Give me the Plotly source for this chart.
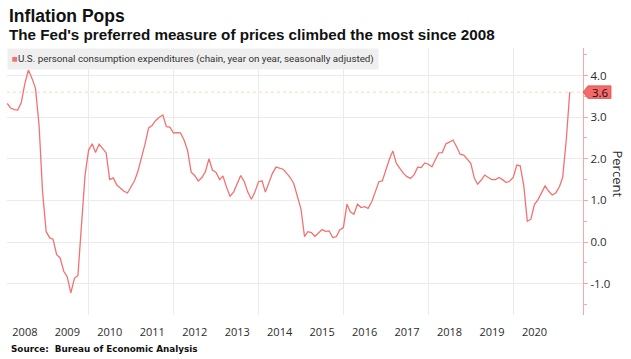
import pandas as pd
import plotly.graph_objects as go

# Monthly PCE price index, % change year on year (Jan 2008 - Apr 2021)
start_month = "2008-01-31"
pce_yoy = [
    # 2008
    3.33, 3.22, 3.18, 3.17, 3.35, 3.80, 4.13, 3.93, 3.69, 2.80, 1.20, 0.25,
    # 2009
    0.10, 0.07, -0.30, -0.38, -0.70, -0.83, -1.22, -0.87, -0.80, 0.40, 1.60, 2.21,
    # 2010
    2.36, 2.15, 2.35, 2.25, 2.14, 1.50, 1.54, 1.37, 1.30, 1.22, 1.18, 1.32,
    # 2011
    1.48, 1.70, 2.00, 2.35, 2.74, 2.80, 2.92, 3.00, 3.05, 2.77, 2.76, 2.62,
    # 2012
    2.63, 2.62, 2.45, 2.20, 1.68, 1.60, 1.47, 1.55, 1.69, 2.00, 1.73, 1.67,
    # 2013
    1.50, 1.59, 1.32, 1.10, 1.20, 1.40, 1.60, 1.45, 1.20, 1.03, 1.20, 1.45,
    # 2014
    1.47, 1.20, 1.45, 1.65, 1.80, 1.78, 1.75, 1.65, 1.55, 1.40, 1.10, 0.80,
    # 2015
    0.13, 0.25, 0.23, 0.14, 0.22, 0.30, 0.26, 0.27, 0.11, 0.13, 0.29, 0.35,
    # 2016
    0.91, 0.73, 0.67, 0.91, 0.83, 0.85, 0.81, 0.97, 1.20, 1.45, 1.47, 1.75,
    # 2017
    2.00, 2.19, 1.89, 1.77, 1.65, 1.57, 1.53, 1.62, 1.80, 1.79, 1.90, 1.87,
    # 2018
    1.81, 1.97, 2.14, 2.15, 2.36, 2.40, 2.45, 2.29, 2.11, 2.09, 1.98, 1.89,
    # 2019
    1.53, 1.39, 1.49, 1.61, 1.55, 1.50, 1.50, 1.55, 1.50, 1.43, 1.46, 1.55,
    # 2020
    1.85, 1.83, 1.35, 0.50, 0.55, 0.90, 1.02, 1.20, 1.35, 1.22, 1.13, 1.18,
    # 2021
    1.33, 1.55, 2.45, 3.60,
]
dates = pd.date_range(start_month, periods=len(pce_yoy), freq="ME")

year_labels = [str(y) for y in range(2008, 2021)]
year_tick_dates = [f"{y}-07-01" for y in range(2008, 2021)]
y_tick_vals = [-1, 0, 1, 2, 3, 4]
y_tick_text = ["-1.0", "0.0", "1.0", "2.0", "3.0", "4.0"]

title_text = "Inflation Pops"
subtitle_text = "The Fed's preferred measure of prices climbed the most since 2008"
series_name = "U.S. personal consumption expenditures (chain, year on year, seasonally adjusted)"
source_text = "Source:  Bureau of Economic Analysis"

LINE = "#f27272"
AXIS = "#f3a9a9"
GRID = "#ebebeb"
TEXT = "#2b2b2b"

fig = go.Figure()
fig.add_trace(go.Scatter(
    x=dates, y=pce_yoy, mode="lines", name=series_name,
    line=dict(color=LINE, width=1.3), showlegend=False,
))

last_val = pce_yoy[-1]
H = 267.0
W = 576.0
yr = 4.66 - (-1.75)
dy = 6.3 * yr / H

# reference line at last value
fig.add_shape(type="line", xref="paper", yref="y", x0=0, x1=1, y0=last_val, y1=last_val,
              line=dict(color="#fbd7bd", width=1, dash="dot"), layer="below")
# value tag
px = lambda p: 1 + p / W
fig.add_shape(
    type="path", xref="paper", yref="y", layer="above",
    path=(f"M {px(0)} {last_val} L {px(5)} {last_val + dy} L {px(28)} {last_val + dy} "
          f"L {px(28)} {last_val - dy} L {px(5)} {last_val - dy} Z"),
    fillcolor="#f36a6a", line=dict(color="#d9534f", width=0.8),
)
fig.add_annotation(
    xref="paper", yref="y", x=px(17), y=last_val, text=f"{last_val:.1f}",
    showarrow=False, font=dict(family="Open Sans", size=11.5, color="#2a0a0a"),
    xanchor="center", yanchor="middle",
)

# legend-like box
fig.add_annotation(
    xref="paper", yref="paper", x=0, y=1.0, xanchor="left", yanchor="top",
    text=f'<span style="color:{LINE}">■</span>{series_name}',
    showarrow=False, align="left",
    font=dict(family="Liberation Sans Narrow, Roboto, sans-serif", size=9.8, color="#333333"),
    bgcolor="#efefef", borderpad=4,
)

# titles
fig.add_annotation(
    xref="paper", yref="paper", x=0, y=1, xanchor="left", yanchor="bottom",
    yshift=20, text=f"<b>{title_text}</b>", showarrow=False,
    font=dict(family="Liberation Sans, Arial, sans-serif", size=17.5, color="#111111"),
)
fig.add_annotation(
    xref="paper", yref="paper", x=0, y=1, xanchor="left", yanchor="bottom",
    yshift=3, text=f"<b>{subtitle_text}</b>", showarrow=False,
    font=dict(family="Liberation Sans, Arial, sans-serif", size=15.2, color="#111111"),
)
fig.add_annotation(
    xref="paper", yref="paper", x=0, y=0, xanchor="left", yanchor="top",
    yshift=-27, xshift=2, text=f"<b>{source_text}</b>", showarrow=False,
    font=dict(family="DejaVu Sans, sans-serif", size=8.8, color="#111111"),
)
# y-axis title reading top to bottom
fig.add_annotation(
    xref="paper", yref="paper", x=1, y=0.5, xanchor="center", yanchor="middle",
    xshift=35, yshift=8, text="Percent", textangle=90, showarrow=False,
    font=dict(family="Open Sans", size=13, color=TEXT),
)

fig.update_layout(
    width=631, height=359,
    margin=dict(l=7, r=48, t=48, b=44),
    paper_bgcolor="white", plot_bgcolor="white",
    showlegend=False,
    xaxis=dict(
        type="date", range=["2008-01-29", "2021-08-22"],
        tickvals=year_tick_dates, ticktext=year_labels,
        showgrid=False, zeroline=False, showline=False, ticks="",
        tickfont=dict(family="Open Sans", size=11, color=TEXT),
        ticklabelstandoff=9,
        minor=dict(tick0="2010-01-01", dtick="M24", showgrid=True,
                   gridcolor=GRID, gridwidth=1, ticks=""),
    ),
    yaxis=dict(
        side="right", range=[-1.75, 4.66],
        tickvals=y_tick_vals, ticktext=y_tick_text,
        showgrid=True, gridcolor=GRID, gridwidth=1, zeroline=False,
        showline=True, linecolor=AXIS, linewidth=1.2,
        ticks="outside", ticklen=4, tickcolor=AXIS, tickwidth=1,
        tickfont=dict(family="Open Sans", size=11.5, color=TEXT),
        minor=dict(dtick=0.5, tick0=0, ticks="outside", ticklen=3,
                   tickcolor=AXIS, showgrid=False),
    ),
)

fig.write_html("out.html", config={"displayModeBar": False},
               post_script="document.body.style.margin='0';")
